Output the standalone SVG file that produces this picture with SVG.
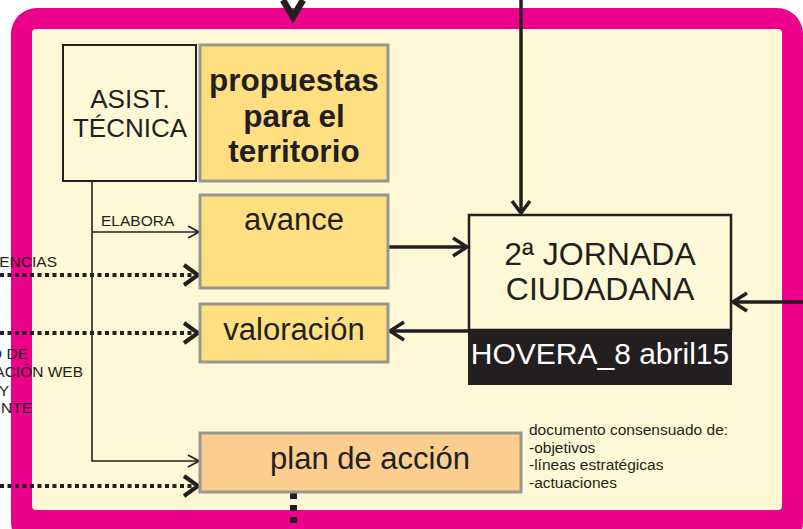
<svg xmlns="http://www.w3.org/2000/svg" width="803" height="529" viewBox="0 0 803 529">
<style>
text{font-family:"Liberation Sans",Arial,sans-serif;fill:#231F20}
.c{text-anchor:middle}
.big{font-size:31px}
.sm{font-size:15.5px}
.box{fill:#FFDF80;stroke:#979792;stroke-width:3}
.thin{fill:none;stroke:#231F20;stroke-width:1.6}
.thick{fill:none;stroke:#231F20;stroke-width:3.5}
.dot{fill:none;stroke:#231F20;stroke-width:4;stroke-dasharray:4 3.5}
.chev{fill:none;stroke:#231F20;stroke-linecap:butt;stroke-linejoin:miter}
</style>
<rect width="803" height="529" fill="#ffffff"/>
<g id="frame">
<rect x="11" y="8" width="792" height="540" rx="26" fill="#EC008C"/>
<rect x="32" y="29" width="750" height="481" rx="4" fill="#FEF8D6"/>
</g>
<g id="connectors">
<polyline class="chev" points="283,0 293,17 303,0" stroke-width="6.5"/>
<line class="thick" x1="521" y1="0" x2="521" y2="213" stroke-width="3"/>
<polyline class="chev" points="512,201 521,213 530,201" stroke-width="3.5"/>
<polyline class="thin" points="92,182 92,461 198,461"/>
<line class="thin" x1="92" y1="232" x2="198" y2="232"/>
<polyline class="chev" points="188,226 199,232 188,238" stroke-width="1.8"/>
<polyline class="chev" points="188,455 199,461 188,467" stroke-width="1.8"/>
<line class="dot" x1="0" y1="275" x2="196" y2="275"/>
<polyline class="chev" points="184,265 198,275 184,285" stroke-width="4"/>
<line class="dot" x1="0" y1="333" x2="196" y2="333"/>
<polyline class="chev" points="184,323 198,333 184,343" stroke-width="4"/>
<line class="dot" x1="0" y1="486" x2="196" y2="486"/>
<polyline class="chev" points="184,476 198,486 184,496" stroke-width="4"/>
<line class="thick" x1="389" y1="247" x2="466" y2="247"/>
<polyline class="chev" points="453,238 467,247 453,256" stroke-width="3.5"/>
<line class="thick" x1="468" y1="331" x2="391" y2="331"/>
<polyline class="chev" points="404,322 390,331 404,340" stroke-width="3.5"/>
<line class="thick" x1="803" y1="302" x2="734" y2="302"/>
<polyline class="chev" points="747,293 733,302 747,311" stroke-width="3.5"/>
<line x1="293.5" y1="493" x2="293.5" y2="529" stroke="#231F20" stroke-width="7" stroke-dasharray="6 6"/>
</g>
<g id="asist">
<rect x="63" y="45" width="133" height="136" fill="#FEF8D6" stroke="#231F20" stroke-width="2"/>
<text class="c" x="130" y="108" font-size="26">ASIST.</text>
<text class="c" x="130" y="137" font-size="26">TÉCNICA</text>
</g>
<g id="propuestas">
<rect class="box" x="200" y="45" width="188" height="136"/>
<text class="c" x="294" y="91" font-size="31.5" font-weight="bold">propuestas</text>
<text class="c" x="294" y="127" font-size="31.5" font-weight="bold">para el</text>
<text class="c" x="294" y="162" font-size="31.5" font-weight="bold">territorio</text>
</g>
<g id="avance">
<rect class="box" x="200" y="195" width="188" height="93"/>
<text class="c big" x="294" y="230">avance</text>
</g>
<g id="valoracion">
<rect class="box" x="200" y="304" width="188" height="58"/>
<text class="c big" x="294" y="340">valoración</text>
</g>
<g id="plan">
<rect x="200" y="433" width="321" height="59" fill="#FBCE8E" stroke="#979792" stroke-width="3"/>
<text class="c big" x="370" y="469">plan de acción</text>
</g>
<g id="jornada">
<rect x="469" y="215" width="262" height="115" fill="#FEF8D6" stroke="#231F20" stroke-width="2.5"/>
<rect x="468" y="330" width="264" height="55" fill="#231F20"/>
<text class="c" x="600" y="265" font-size="32">2ª JORNADA</text>
<text class="c" x="600" y="300" font-size="32">CIUDADANA</text>
<text class="c" x="600" y="364" font-size="30" style="fill:#ffffff">HOVERA_8 abril15</text>
</g>
<g id="labels">
<text class="sm" x="101" y="226">ELABORA</text>
<text class="sm" x="57" y="267" text-anchor="end">ENCIAS</text>
<text class="sm" x="28" y="359" text-anchor="end">O DE</text>
<text class="sm" x="83" y="377" text-anchor="end">ACIÓN WEB</text>
<text class="sm" x="9" y="396" text-anchor="end">Y</text>
<text class="sm" x="32" y="413" text-anchor="end">NTE</text>
<text class="sm" x="529" y="435">documento consensuado de:</text>
<text class="sm" x="529" y="453">-objetivos</text>
<text class="sm" x="529" y="470">-líneas estratégicas</text>
<text class="sm" x="529" y="488">-actuaciones</text>
</g>
</svg>
